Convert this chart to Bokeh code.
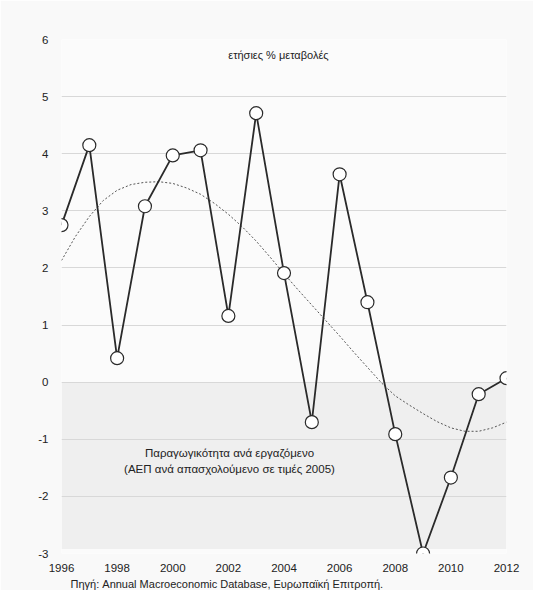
from bokeh.plotting import figure
from bokeh.models import Range1d, Label, FixedTicker, ColumnDataSource, Title
from bokeh.embed import file_html
from bokeh.resources import INLINE

years = [1996, 1997, 1998, 1999, 2000, 2001, 2002, 2003, 2004, 2005, 2006,
         2007, 2008, 2009, 2010, 2011, 2012]
productivity = [2.75, 4.15, 0.42, 3.08, 3.97, 4.06, 1.16, 4.71, 1.91, -0.70,
                3.64, 1.40, -0.91, -3.00, -1.67, -0.21, 0.07]

trend_x = [1996.0, 1996.5, 1997.0, 1997.5, 1998.0, 1998.5, 1999.0, 1999.5,
           2000.0, 2000.5, 2001.0, 2001.5, 2002.0, 2002.5, 2003.0, 2003.5,
           2004.0, 2004.5, 2005.0, 2005.5, 2006.0, 2006.5, 2007.0, 2007.5,
           2008.0, 2008.5, 2009.0, 2009.5, 2010.0, 2010.5, 2011.0, 2011.5, 2012.0]
trend_y = [2.13, 2.55, 2.90, 3.18, 3.36, 3.46, 3.50, 3.51,
           3.48, 3.40, 3.29, 3.13, 2.94, 2.72, 2.47, 2.19,
           1.90, 1.62, 1.35, 1.08, 0.81, 0.53, 0.26, -0.01,
           -0.24, -0.40, -0.55, -0.69, -0.80, -0.86, -0.86, -0.80, -0.70]

x_ticks = [1996, 1998, 2000, 2002, 2004, 2006, 2008, 2010, 2012]
y_ticks = [-3, -2, -1, 0, 1, 2, 3, 4, 5, 6]
y_tick_labels = ["-3", "-2", "-1", "0", "1", "2", "3", "4", "5", "6"]

title_text = "ετήσιες % μεταβολές"
series_text1 = "Παραγωγικότητα ανά εργαζόμενο"
series_text2 = "(ΑΕΠ ανά απασχολούμενο σε τιμές 2005)"
source_text = "Πηγή: Annual Macroeconomic Database, Ευρωπαϊκή Επιτροπή."

FONT = "Liberation Sans"

p = figure(output_backend="svg", toolbar_location=None,
           frame_width=445, frame_height=514,
           min_border_left=61, min_border_right=27,
           min_border_top=39, min_border_bottom=20,
           x_range=Range1d(1996, 2012), y_range=Range1d(-3, 6))

p.background_fill_color = "#fbfbfb"
p.border_fill_color = "#f9f9f9"
p.outline_line_color = None

# grey band below zero
p.quad(left=[years[0]], right=[years[-1]], bottom=[-2.92], top=[0],
       fill_color="#efefef", line_color=None, level="underlay")

p.xgrid.grid_line_color = None
p.ygrid.grid_line_color = "#d8d8d8"
p.ygrid.grid_line_width = 1
p.ygrid.ticker = FixedTicker(ticks=y_ticks)

for ax in (p.xaxis[0], p.yaxis[0]):
    ax.axis_line_color = None
    ax.major_tick_line_color = None
    ax.minor_tick_line_color = None
    ax.major_tick_out = 0
    ax.major_tick_in = 0
    ax.minor_tick_out = 0
    ax.major_label_text_font = FONT
    ax.major_label_text_font_size = "11.5px"
    ax.major_label_text_color = "#222222"

p.xaxis[0].ticker = FixedTicker(ticks=x_ticks)
p.yaxis[0].ticker = FixedTicker(ticks=y_ticks)
p.yaxis[0].major_label_overrides = {t: s for t, s in zip(y_ticks, y_tick_labels)}
p.xaxis[0].major_label_standoff = 10
p.yaxis[0].major_label_standoff = 13

# trend (dotted)
p.line(trend_x, trend_y, line_color="#555555", line_width=1, line_dash="2 2")

src = ColumnDataSource(dict(x=years, y=productivity))
p.line("x", "y", source=src, line_color="#2a2a2a", line_width=1.8)
p.scatter("x", "y", source=src, size=13, marker="circle", fill_color="white",
          line_color="#2a2a2a", line_width=1.2)

p.add_layout(Label(x=2003.8, y=5.72, text=title_text, text_font=FONT,
                   text_font_size="11px", text_color="#222222",
                   text_align="center", text_baseline="middle"))
p.add_layout(Label(x=2002.04, y=-1.24, text=series_text1, text_font=FONT,
                   text_font_size="11.5px", text_color="#222222",
                   text_align="center", text_baseline="middle"))
p.add_layout(Label(x=2002.04, y=-1.52, text=series_text2, text_font=FONT,
                   text_font_size="11.5px", text_color="#222222",
                   text_align="center", text_baseline="middle"))

p.add_layout(Title(text=source_text, align="left", offset=9,
                   text_font=FONT, text_font_size="11px",
                   text_font_style="normal", text_color="#222222",
                   standoff=2), "below")

open("out.html", "w").write(file_html(p, INLINE))
